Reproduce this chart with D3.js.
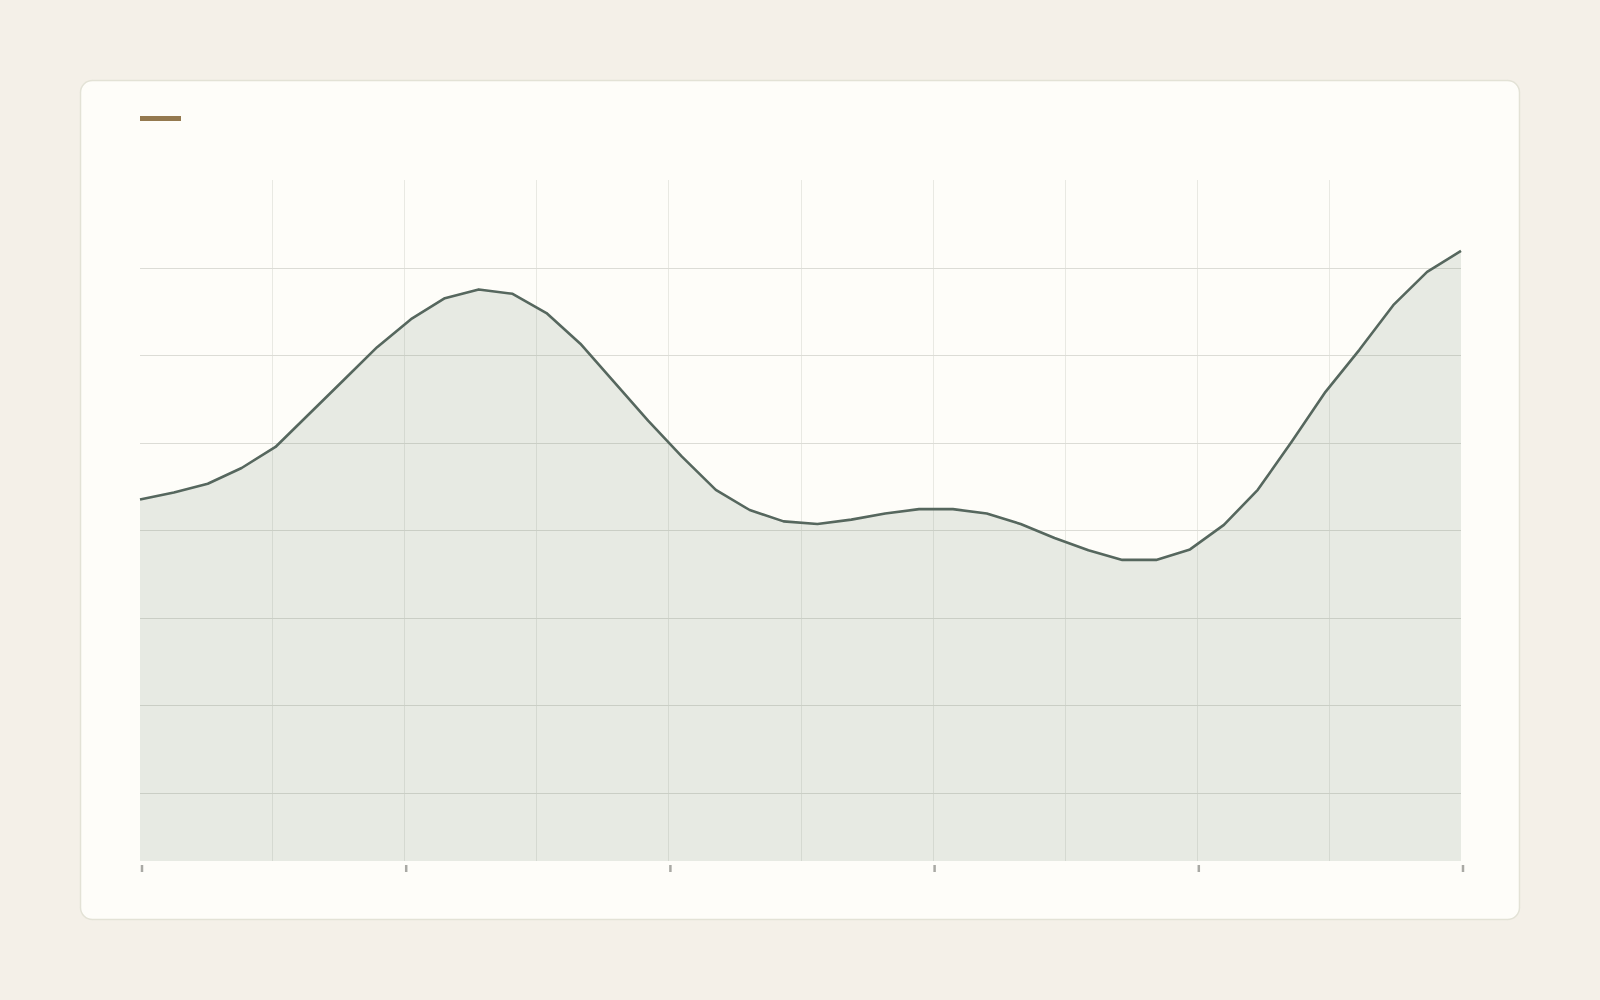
<!DOCTYPE html>
<html>
<head>
<meta charset="utf-8">
<script src="https://cdn.jsdelivr.net/npm/d3@7"></script>
<style>
  html, body { margin: 0; padding: 0; background: #f4f0e8; }
  svg { display: block; font-family: "Noto Sans", sans-serif; }
</style>
</head>
<body>
<div id="chart"></div>
<script>
// Werte (aus dem Bild gelesen)
const series = [
  43.5, 44.3, 45.3, 47.1, 49.5, 53.3, 57.1, 60.9, 64.1, 66.5,
  67.5, 67.0, 64.8, 61.3, 56.9, 52.5, 48.4, 44.6, 42.3, 41.0,
  40.7, 41.2, 41.9, 42.4, 42.4, 41.9, 40.7, 39.1, 37.7, 36.6,
  36.6, 37.8, 40.6, 44.6, 50.1, 55.8, 60.6, 65.7, 69.5, 71.9
];
const yDomain = [2.2, 80];
const yGridValues = [10, 20, 30, 40, 50, 60, 70];
const xDomain = [0, 100];
const xTickValues = [0, 20, 40, 60, 80, 100];
const xGridValues = [10, 20, 30, 40, 50, 60, 70, 80, 90];

const W = 1600, H = 1000;
const plot = { left: 140, right: 1461, top: 180, bottom: 861 };

const svg = d3.select('#chart').append('svg')
  .attr('width', W).attr('height', H);

// Karte
svg.append('rect')
  .attr('x', 80.5).attr('y', 80.5)
  .attr('width', 1439).attr('height', 839)
  .attr('rx', 12)
  .attr('fill', '#fefdf9')
  .attr('stroke', '#e3e2d6')
  .attr('stroke-width', 1.5);

// Legende (nur Farbbalken)
svg.append('rect')
  .attr('x', 140).attr('y', 116)
  .attr('width', 41).attr('height', 5)
  .attr('fill', '#94794f');

const x = d3.scaleLinear().domain(xDomain).range([plot.left, plot.right]);
const xi = d3.scaleLinear().domain([0, series.length - 1]).range([plot.left, plot.right]);
const y = d3.scaleLinear().domain(yDomain).range([plot.bottom, plot.top]);

// Gitter
const gGrid = svg.append('g').attr('class', 'grid');
gGrid.selectAll('line.gx')
  .data(xGridValues)
  .join('line')
  .attr('class', 'gx')
  .attr('x1', d => Math.round(x(d)) + 0.5)
  .attr('x2', d => Math.round(x(d)) + 0.5)
  .attr('y1', plot.top)
  .attr('y2', plot.bottom)
  .attr('stroke', '#e9e9e3')
  .attr('stroke-width', 1);

gGrid.selectAll('line.gy')
  .data(yGridValues)
  .join('line')
  .attr('class', 'gy')
  .attr('x1', plot.left)
  .attr('x2', plot.right)
  .attr('y1', d => Math.round(y(d)) + 0.5)
  .attr('y2', d => Math.round(y(d)) + 0.5)
  .attr('stroke', '#dcdcd6')
  .attr('stroke-width', 1);

// Fläche + Linie
const area = d3.area()
  .x((d, i) => xi(i))
  .y0(y(yDomain[0]))
  .y1(d => y(d));

const line = d3.line()
  .x((d, i) => xi(i))
  .y(d => y(d));

svg.append('path')
  .datum(series)
  .attr('d', area)
  .attr('fill', '#5f7a66')
  .attr('fill-opacity', 0.14);

svg.append('path')
  .datum(series)
  .attr('d', line)
  .attr('fill', 'none')
  .attr('stroke', '#56675e')
  .attr('stroke-width', 2.6)
  .attr('stroke-linejoin', 'round');

// x-Achse: nur kurze Striche, keine Beschriftung
const xAxis = d3.axisBottom(x).tickValues(xTickValues).tickSize(7).tickFormat('');
svg.append('g')
  .attr('transform', `translate(0, ${plot.bottom + 4})`)
  .call(xAxis)
  .call(g => {
    g.select('.domain').remove();
    g.selectAll('.tick line')
      .attr('stroke', '#a9a9a4')
      .attr('stroke-width', 2.5)
      .attr('transform', 'translate(1.5,0)');
  });
</script>
</body>
</html>
